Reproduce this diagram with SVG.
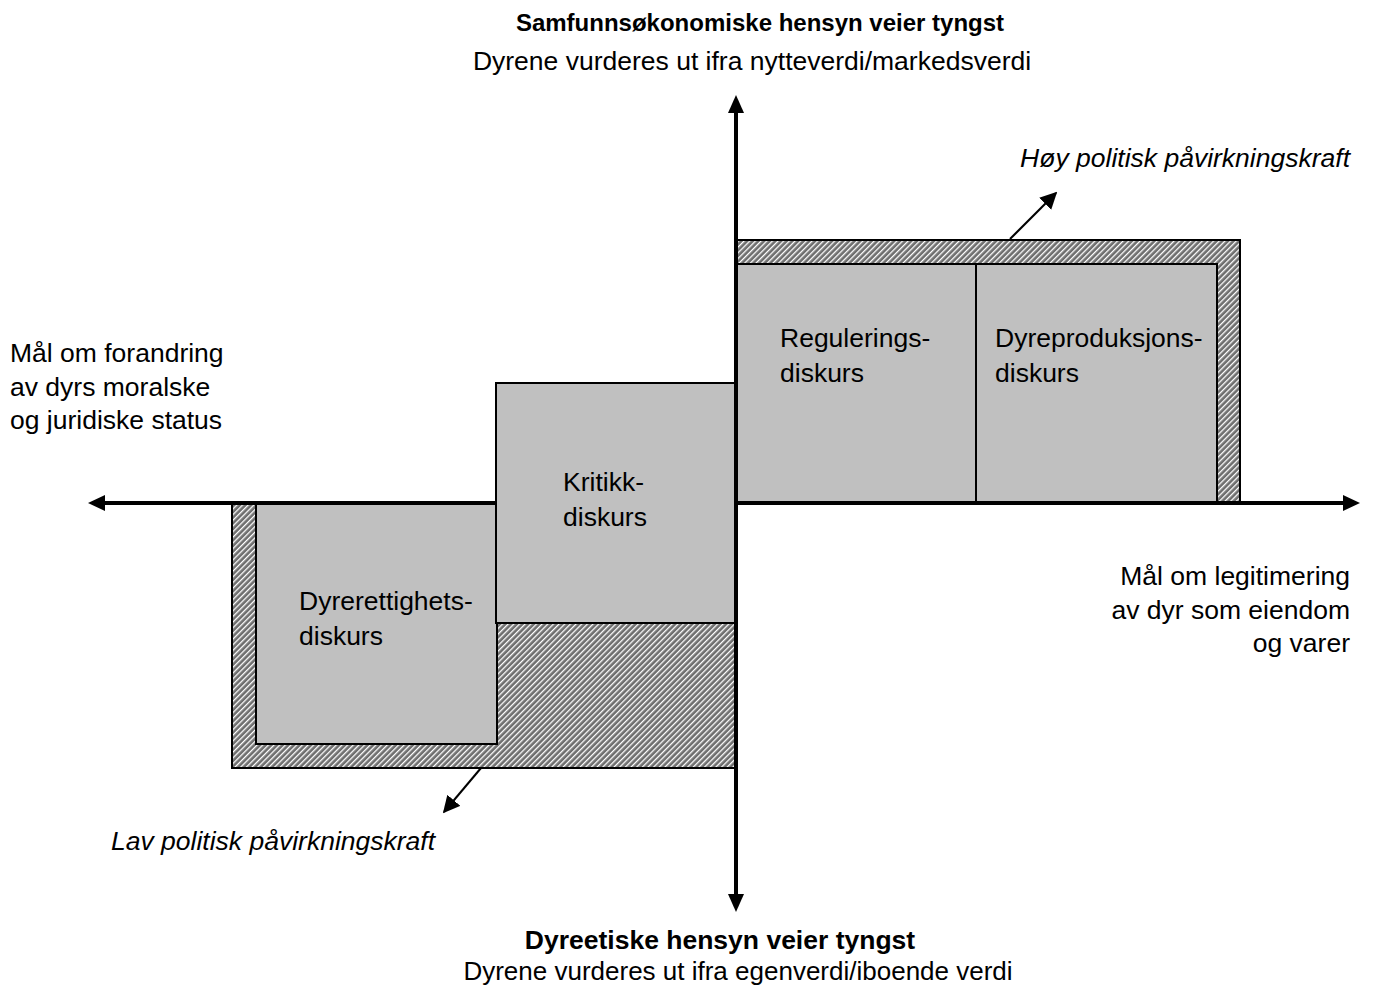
<svg xmlns="http://www.w3.org/2000/svg" width="1382" height="985" viewBox="0 0 1382 985">
<style>
text{font-family:"Liberation Sans",Arial,sans-serif;font-size:26.5px;fill:#000}
.b{font-weight:bold;font-size:24px}
.b2{font-weight:bold;font-size:26.5px}
.s{font-size:26px}
.i{font-style:italic}
.m{text-anchor:middle}
.e{text-anchor:end}
.hatch{fill:url(#h);stroke:#000;stroke-width:2}
.box{fill:#c0c0c0;stroke:#000;stroke-width:2}
.axis{stroke:#000;stroke-width:4;fill:none}
.thin{stroke:#000;stroke-width:2;fill:none}
</style>
<defs>
<pattern id="h" patternUnits="userSpaceOnUse" width="4" height="4" patternTransform="rotate(45)">
<rect width="4" height="4" fill="#6e6e6e"/>
<rect width="1.3" height="4" fill="#fff"/>
</pattern>
<marker id="sa" viewBox="0 0 10 10" refX="9" refY="5" markerWidth="8.5" markerHeight="8.5" orient="auto">
<path d="M0,0L10,5L0,10z" fill="#000"/>
</marker>
</defs>
<g id="upper-frame">
<rect class="hatch" x="736" y="240" width="504" height="263"/>
</g>
<g id="lower-frame">
<rect class="hatch" x="232" y="503" width="504" height="265"/>
</g>
<g id="reguleringsdiskurs">
<rect class="box" x="736" y="264" width="240" height="239"/>
<text x="780" y="347">Regulerings-</text>
<text x="780" y="382">diskurs</text>
</g>
<g id="dyreproduksjonsdiskurs">
<rect class="box" x="976" y="264" width="241" height="239"/>
<text x="995" y="347">Dyreproduksjons-</text>
<text x="995" y="382">diskurs</text>
</g>
<g id="dyrerettighetsdiskurs">
<rect class="box" x="256" y="503" width="241" height="241"/>
<text x="299" y="610">Dyrerettighets-</text>
<text x="299" y="645">diskurs</text>
</g>
<g id="kritikkdiskurs">
<rect class="box" x="496" y="383" width="240" height="240"/>
<text x="563" y="491">Kritikk-</text>
<text x="563" y="526">diskurs</text>
</g>
<g id="connectors">
<path class="axis" d="M736,505V112"/>
<path d="M736,95L728,113L744,113z"/>
<path class="axis" d="M736,501V895"/>
<path d="M736,912L728,894L744,894z"/>
<path class="axis" d="M496,503H104"/>
<path d="M88,503L105,495L105,511z"/>
<path class="axis" d="M734,503H1344"/>
<path d="M1360,503L1343,495L1343,511z"/>
<line class="thin" x1="1010" y1="239" x2="1056" y2="193" marker-end="url(#sa)"/>
<line class="thin" x1="481" y1="768" x2="444" y2="812" marker-end="url(#sa)"/>
</g>
<g id="labels">
<text class="b m" x="760" y="31">Samfunnsøkonomiske hensyn veier tyngst</text>
<text class="m" x="752" y="70">Dyrene vurderes ut ifra nytteverdi/markedsverdi</text>
<text class="i e" x="1350" y="167">Høy politisk påvirkningskraft</text>
<text x="10" y="362">Mål om forandring</text>
<text x="10" y="396">av dyrs moralske</text>
<text x="10" y="429">og juridiske status</text>
<text class="e" x="1350" y="585">Mål om legitimering</text>
<text class="e" x="1350" y="619">av dyr som eiendom</text>
<text class="e" x="1350" y="652">og varer</text>
<text class="i" x="111" y="850">Lav politisk påvirkningskraft</text>
<text class="b2 m" x="720" y="949">Dyreetiske hensyn veier tyngst</text>
<text class="s m" x="738" y="980">Dyrene vurderes ut ifra egenverdi/iboende verdi</text>
</g>
</svg>
